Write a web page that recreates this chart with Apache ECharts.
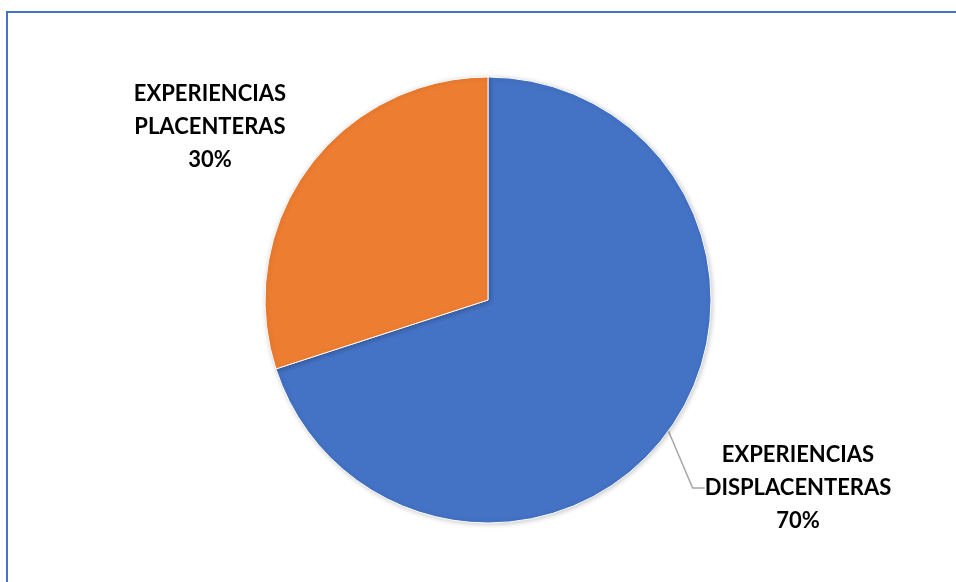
<!DOCTYPE html>
<html>
<head>
<meta charset="utf-8">
<script src="https://cdn.jsdelivr.net/npm/echarts@6/dist/echarts.min.js"></script>
<style>
html,body{margin:0;padding:0;background:#fff;}
#chart{width:956px;height:582px;}
</style>
</head>
<body>
<div id="chart"></div>
<script>
var categories = ['EXPERIENCIAS\nDISPLACENTERAS', 'EXPERIENCIAS\nPLACENTERAS'];
var values = [70, 30];
var colors = ['#4472C4', '#ED7D31'];

var chart = echarts.init(document.getElementById('chart'), null, {renderer: 'canvas'});
var data = categories.map(function (c, i) {
  return {
    name: c,
    value: values[i],
    itemStyle: {color: colors[i]},
    labelLine: {show: i === 0}
  };
});
chart.setOption({
  animation: false,
  backgroundColor: '#fff',
  graphic: [{
    type: 'rect',
    shape: {x: 7, y: 12, width: 1200, height: 1200},
    style: {fill: 'none', stroke: '#4472C4', lineWidth: 2},
    silent: true
  }],
  series: [{
    type: 'pie',
    center: [488, 300],
    radius: 223,
    startAngle: 90,
    clockwise: true,
    data: data,
    itemStyle: {borderColor: '#fff', borderWidth: 1, shadowBlur: 5, shadowColor: 'rgba(0,0,0,0.2)', shadowOffsetX: 1, shadowOffsetY: 1},
    label: {
      show: true,
      position: 'outside',
      formatter: '{b}\n{d}%',
      fontFamily: 'Lato',
      fontWeight: 'bold',
      fontSize: 22,
      lineHeight: 33,
      color: '#000',
      align: 'center'
    },
    labelLine: {
      show: true,
      length: 50,
      length2: 12,
      lineStyle: {color: '#A6A6A6', width: 1.5}
    },
    labelLayout: function (params) {
      if (params.dataIndex === 0) {
        return {x: 798, y: 488, align: 'center', verticalAlign: 'middle'};
      }
      return {x: 210, y: 127, align: 'center', verticalAlign: 'middle'};
    }
  }]
});
</script>
</body>
</html>
